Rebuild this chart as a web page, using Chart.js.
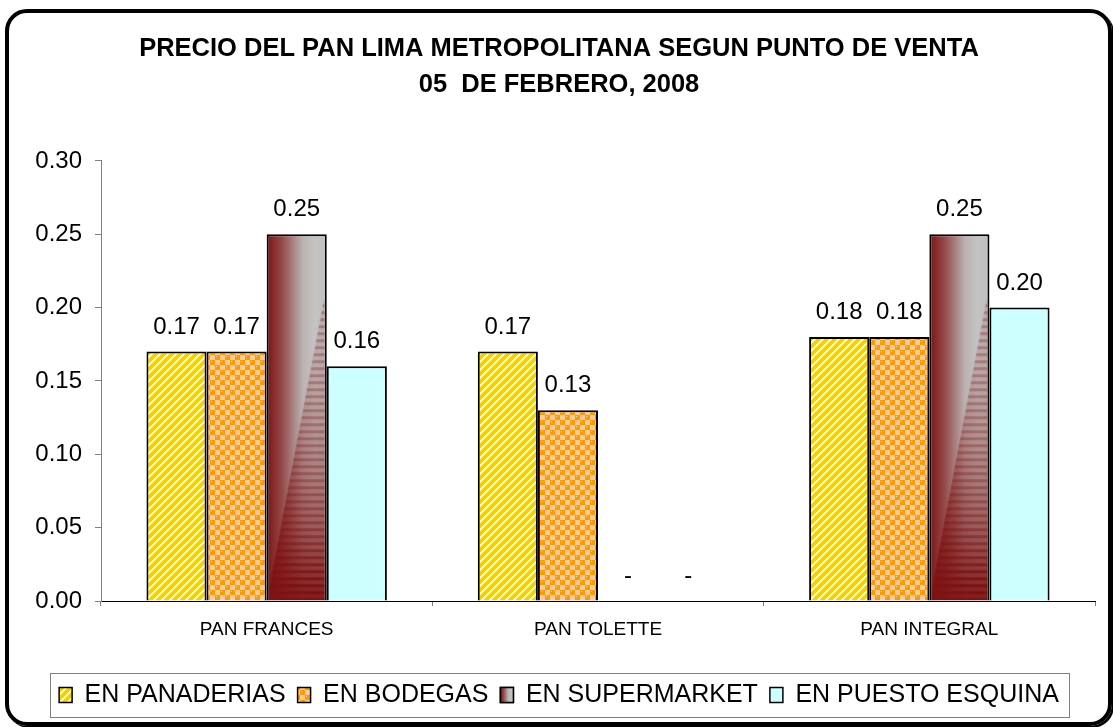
<!DOCTYPE html>
<html>
<head>
<meta charset="utf-8">
<script src="https://cdn.jsdelivr.net/npm/chart.js@4.4.1/dist/chart.umd.min.js"></script>
<style>
  html, body { margin: 0; padding: 0; background: #fff; }
  #frame {
    position: absolute; left: 5px; top: 9px; width: 1099px; height: 709px;
    border: 4px solid #000; border-radius: 22px; box-shadow: 2px 2px 0 #000;
  }
  #chart { position: absolute; left: 0; top: 0; }
</style>
</head>
<body>
<div id="frame"></div>
<canvas id="chart" width="1113" height="727"></canvas>
<script>
'use strict';

// data
const categories = ['PAN FRANCES', 'PAN TOLETTE', 'PAN INTEGRAL'];
const seriesNames = ['EN PANADERIAS', 'EN BODEGAS', 'EN SUPERMARKET', 'EN PUESTO ESQUINA'];
const panaderias = [0.17, 0.17, 0.18];
const bodegas = [0.17, 0.13, 0.18];
const supermarket = [0.25, 0, 0.25];
const puestoEsquina = [0.16, 0, 0.20];
const yTicks = [0, 0.05, 0.10, 0.15, 0.20, 0.25, 0.30];
const titleLines = ['PRECIO DEL PAN LIMA METROPOLITANA SEGUN PUNTO DE VENTA', '05  DE FEBRERO, 2008'];

const FONT = '"Liberation Sans", Arial, sans-serif';
const CAT_PCT = 0.7257;
const SUPER = 2; // index of the gradient series
const ctx = document.getElementById('chart');

// small pixel tiles for the hatched fills
function tile(size, colorAt) {
  const c = document.createElement('canvas');
  c.width = size; c.height = size;
  const g = c.getContext('2d');
  const img = g.createImageData(size, size);
  for (let y = 0; y < size; y++) {
    for (let x = 0; x < size; x++) {
      const col = colorAt(x, y);
      const k = (y * size + x) * 4;
      img.data[k] = col[0]; img.data[k + 1] = col[1]; img.data[k + 2] = col[2]; img.data[k + 3] = 255;
    }
  }
  g.putImageData(img, 0, 0);
  return ctx.getContext('2d').createPattern(c, 'repeat');
}

const yellowStripes = tile(8, (x, y) => ((x + y) % 8) < 3 ? [255, 255, 153] : [255, 204, 0]);
const orangeDots = tile(10, (x, y) => {
  const cx = Math.floor(x / 5), cy = Math.floor(y / 5);
  if ((cx + cy) % 2 === 1) return [255, 204, 153];
  const lx = x % 5, ly = y % 5;
  if (lx === 1 && ly === 1) return [255, 221, 170];
  return [255, 153, 0];
});

function redSilver(g, x, w) {
  const grad = g.createLinearGradient(x, 0, x + w, 0);
  grad.addColorStop(0, '#7b1414');
  grad.addColorStop(0.25, '#944848');
  grad.addColorStop(0.6, '#bcb2b2');
  grad.addColorStop(0.8, '#c3c3c3');
  grad.addColorStop(1, '#c0c0c0');
  return grad;
}

// dark red -> silver gradient, with a streaky wedge at the bottom
function supermarketFill(context) {
  const fallback = '#8c3b3b';
  const chart = context.chart;
  if (context.type !== 'data') return fallback;
  const xs = chart.scales.x, ys = chart.scales.y;
  const v = context.raw;
  if (!xs || !ys || !v) return fallback;
  const catW = xs.width / categories.length;
  const groupW = catW * CAT_PCT;
  const barW = groupW / seriesNames.length;
  const left = xs.getPixelForValue(context.dataIndex) - groupW / 2 + context.datasetIndex * barW;
  const top = ys.getPixelForValue(v);
  const bottom = ys.getPixelForValue(0);
  if (![left, top, bottom, barW].every(Number.isFinite) || bottom - top < 1 || barW < 1) return fallback;
  const w = Math.round(barW), h = Math.round(bottom - top);
  const c = document.createElement('canvas');
  c.width = w; c.height = h;
  const g = c.getContext('2d');
  g.fillStyle = redSilver(g, 0, w);
  g.fillRect(0, 0, w, h);
  const start = Math.round(h * 0.18);
  for (let yy = start; yy < h; yy++) {
    const t = (yy - start) / (h - start);
    const x0 = w * 0.95 * (1 - t);
    const band = (yy % 7) < 3 ? 0.4 : 0.12;
    const a = Math.min(1, t * t * 0.9 + band * (1 - t * 0.5));
    g.fillStyle = 'rgba(125,18,18,' + a.toFixed(3) + ')';
    g.fillRect(x0, yy, w - x0, 1);
  }
  const pat = chart.ctx.createPattern(c, 'no-repeat');
  pat.setTransform(new DOMMatrix([1, 0, 0, 1, left, top]));
  return pat;
}

const valueLabels = {
  id: 'valueLabels',
  afterDatasetsDraw(chart) {
    const c = chart.ctx;
    c.save();
    c.font = '24px ' + FONT;
    c.fillStyle = '#000';
    c.textAlign = 'center';
    c.textBaseline = 'alphabetic';
    chart.data.datasets.forEach((ds, i) => {
      chart.getDatasetMeta(i).data.forEach((bar, j) => {
        const v = ds.data[j];
        c.fillText(v === 0 ? '-' : v.toFixed(2), bar.x, bar.y - 18);
      });
    });
    c.restore();
  }
};

const legendFrame = {
  id: 'legendFrame',
  afterDraw(chart) {
    const legend = chart.legend;
    const boxes = legend.legendHitBoxes;
    if (!boxes || !boxes.length) return;
    const first = boxes[0], last = boxes[boxes.length - 1];
    const mid = first.top + first.height / 2;
    const c = chart.ctx;
    const lab = legend.options.labels;
    c.save();
    // gradient swatch for the supermarket entry
    const hb = boxes[SUPER];
    const bx = hb.left, by = mid - lab.boxHeight / 2;
    c.fillStyle = redSilver(c, bx, lab.boxWidth);
    c.strokeStyle = '#000';
    c.lineWidth = 1.5;
    c.fillRect(bx, by, lab.boxWidth, lab.boxHeight);
    c.strokeRect(bx, by, lab.boxWidth, lab.boxHeight);
    // box round the legend
    c.strokeStyle = '#808080';
    c.lineWidth = 1;
    c.strokeRect(Math.round(first.left - 9) + 0.5, Math.round(mid - 22) + 0.5,
      Math.round(last.left + last.width - first.left + 19), 44);
    c.restore();
  }
};

const fills = [yellowStripes, orangeDots, supermarketFill, '#ccffff'];
const values = [panaderias, bodegas, supermarket, puestoEsquina];

new Chart(ctx, {
  type: 'bar',
  data: {
    labels: categories,
    datasets: seriesNames.map((name, i) => ({
      label: name,
      data: values[i],
      backgroundColor: fills[i],
      borderColor: '#000',
      borderWidth: 2,
      barPercentage: 1,
      categoryPercentage: CAT_PCT
    }))
  },
  options: {
    responsive: false,
    animation: false,
    layout: { padding: { left: 23, right: 18, top: 10, bottom: 9.5 } },
    plugins: {
      title: {
        display: true,
        text: titleLines,
        color: '#000',
        font: { family: FONT, size: 25.5, weight: 'bold', lineHeight: 1.42 },
        padding: { top: 20.5, bottom: 58 }
      },
      legend: {
        position: 'bottom',
        labels: {
          color: '#000',
          font: { family: FONT, size: 25 },
          boxWidth: 13,
          boxHeight: 15,
          padding: 12,
          generateLabels(chart) {
            const items = Chart.defaults.plugins.legend.labels.generateLabels(chart);
            items.forEach((it) => { it.lineWidth = 1.5; });
            if (items[SUPER]) items[SUPER].fillStyle = '#8c3b3b';
            return items;
          }
        }
      },
      tooltip: { enabled: false }
    },
    scales: {
      x: {
        grid: { display: true, offset: true, drawOnChartArea: false, drawTicks: true, tickLength: 5, color: '#808080' },
        border: { display: true, color: '#000', width: 1 },
        ticks: { color: '#000', font: { family: FONT, size: 19 }, padding: 12, maxRotation: 0 },
        afterFit(scale) { scale.height = 69.5; }
      },
      y: {
        min: 0,
        max: 0.3,
        grid: { display: true, drawOnChartArea: false, drawTicks: true, tickLength: 6, color: '#808080' },
        border: { display: true, color: '#808080', width: 1 },
        ticks: {
          color: '#000',
          font: { family: FONT, size: 24 },
          padding: 13,
          callback: (v) => Number(v).toFixed(2)
        },
        afterBuildTicks(scale) { scale.ticks = yTicks.map((v) => ({ value: v })); },
        afterFit(scale) { scale.width = 78; }
      }
    }
  },
  plugins: [valueLabels, legendFrame]
});
</script>
</body>
</html>
